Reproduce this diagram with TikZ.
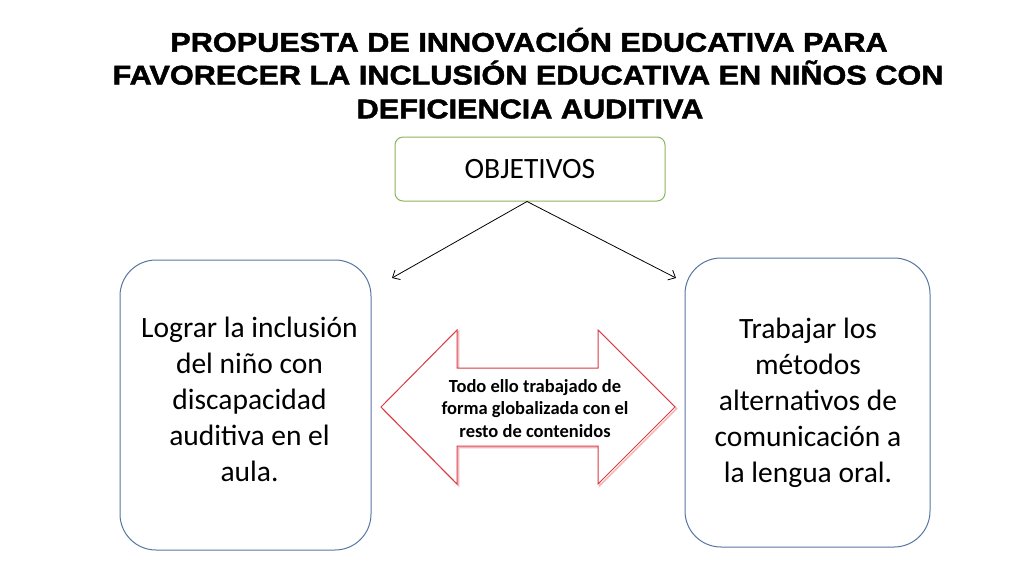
\documentclass[tikz,border=0pt]{standalone}
\usepackage{fontspec}
\setmainfont{Carlito}
\newfontfamily\titlefont[FakeStretch=1.135,FakeBold=1.8]{Liberation Sans Bold}
\usetikzlibrary{arrows.meta}
\definecolor{objgreen}{HTML}{8DB55F}
\definecolor{boxblue}{HTML}{5577A0}
\definecolor{arrred}{HTML}{DA3A44}
\tikzset{
  titletext/.style={font=\titlefont\fontsize{27}{33}\selectfont, inner sep=0pt, anchor=base},
  objbox/.style={draw=objgreen, line width=1pt, rounded corners=8pt, fill=white, inner sep=0pt,
    font=\fontsize{29.5}{36}\selectfont},
  mainbox/.style={draw=boxblue, line width=1pt, rounded corners=36pt, fill=white, inner sep=0pt},
  boxtext/.style={font=\fontsize{29.5}{36}\selectfont, align=center, inner sep=0pt},
  arrtext/.style={font=\bfseries\fontsize{18.5}{22.3}\selectfont, align=center, inner sep=0pt},
  conn/.style={line width=0.8pt, -{Straight Barb[length=6pt,width=11pt]}},
}
\begin{document}
\begin{tikzpicture}[x=1pt,y=-1pt]
\useasboundingbox (0,0) rectangle (1024,576);
\fill[white] (0,0) rectangle (1024,576);
% title
\node[titletext] (t1) at (529,51.7) {PROPUESTA DE INNOVACIÓN EDUCATIVA PARA};
\node[titletext] (t2) at (528,84.5) {FAVORECER LA INCLUSIÓN EDUCATIVA EN NIÑOS CON};
\node[titletext] (t3) at (530,118.3) {DEFICIENCIA AUDITIVA};
% objetivos
\node[objbox, minimum width=270pt, minimum height=64pt] (obj) at (530,169) {OBJETIVOS};
% boxes
\node[mainbox, minimum width=251pt, minimum height=290pt] (lbox) at (245.5,405) {};
\node[mainbox, minimum width=245pt, minimum height=289pt] (rbox) at (807.5,402.5) {};
\node[boxtext] (ltext) at (249.5,399.4) {Lograr la inclusión\\del niño con\\discapacidad\\auditiva en el\\aula.};
\node[boxtext] (rtext) at (808,402.4) {Trabajar los\\métodos\\alternativos de\\comunicación a\\la lengua oral.};
% connectors
\coordinate (la) at (392,278);
\coordinate (ra) at (676,278);
\draw[conn] ([xshift=-3pt]obj.south) -- (la);
\draw[conn] ([xshift=-3pt]obj.south) -- (ra);
% double arrow
\draw[arrred!35, line width=1.6pt, line join=miter, shift={(1.6,1.6)}]
  (381,407) -- (457,330) -- (457,368) -- (598,368) -- (598,330) -- (675,407)
  -- (598,484) -- (598,446) -- (457,446) -- (457,484) -- cycle;
\draw[arrred, fill=white, line width=1pt, line join=miter]
  (381,407) -- (457,330) -- (457,368) -- (598,368) -- (598,330) -- (675,407)
  -- (598,484) -- (598,446) -- (457,446) -- (457,484) -- cycle;
\node[arrtext] (atext) at (535,408.5) {Todo ello trabajado de\\forma globalizada con el\\resto de contenidos};
\end{tikzpicture}
\end{document}
